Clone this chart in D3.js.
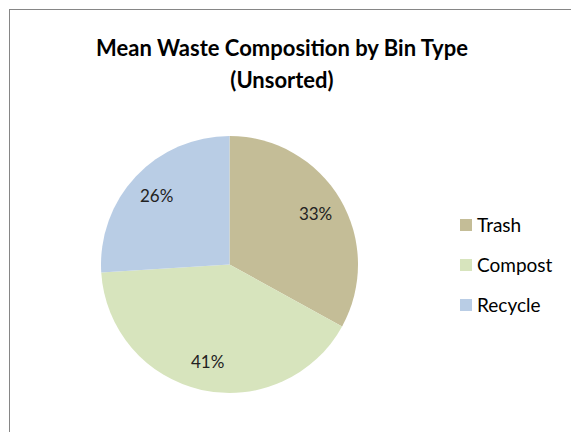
<!DOCTYPE html>
<html><head><meta charset="utf-8">
<script src="https://cdn.jsdelivr.net/npm/d3@7"></script>
<style>html,body{margin:0;padding:0;background:#fff;}</style>
</head><body>
<svg id="c" width="571" height="432"></svg>
<script>
const categories = ["Trash", "Compost", "Recycle"];
const values = [33, 41, 26];
const colors = ["#C4BD97", "#D7E4BD", "#B9CDE5"];
const titleLines = ["Mean Waste Composition by Bin Type", "(Unsorted)"];

const svg = d3.select("#c");
const font = "Lato, 'Open Sans', sans-serif";

svg.append("rect").attr("x", 9.5).attr("y", 9.5).attr("width", 580).attr("height", 440)
  .attr("fill", "#fff").attr("stroke", "#868686").attr("stroke-width", 1);

const title = svg.append("text").attr("text-anchor", "middle")
  .attr("font-family", font).attr("font-weight", "bold").attr("font-size", 22).attr("fill", "#000");
titleLines.forEach((t, i) => title.append("tspan").attr("x", 282).attr("y", 56 + i * 32).text(t));

const cx = 229.5, cy = 264.5, r = 128.5;
const pie = d3.pie().sort(null).value(d => d)(values);
const arc = d3.arc().innerRadius(0).outerRadius(r);
const labelArc = d3.arc().innerRadius(100).outerRadius(100);
const color = d3.scaleOrdinal().domain(categories).range(colors);

const g = svg.append("g").attr("transform", `translate(${cx},${cy})`);
g.selectAll("path").data(pie).join("path")
  .attr("d", arc).attr("fill", (d, i) => color(categories[i]));

const total = d3.sum(values);
g.selectAll("text").data(pie).join("text")
  .attr("transform", d => `translate(${labelArc.centroid(d)})`)
  .attr("text-anchor", "middle").attr("dy", "0.35em")
  .attr("font-family", font).attr("font-size", 17).attr("fill", "#222")
  .text(d => Math.round(d.value / total * 100) + "%");

const legend = svg.append("g");
const ly = d3.scalePoint().domain(categories).range([225, 305]);
categories.forEach(c => {
  legend.append("rect").attr("x", 460).attr("y", ly(c) - 6).attr("width", 12).attr("height", 12)
    .attr("fill", color(c));
  legend.append("text").attr("x", 477).attr("y", ly(c)).attr("dy", "0.36em")
    .attr("font-family", font).attr("font-size", 19).attr("fill", "#000").text(c);
});
</script>
</body></html>
